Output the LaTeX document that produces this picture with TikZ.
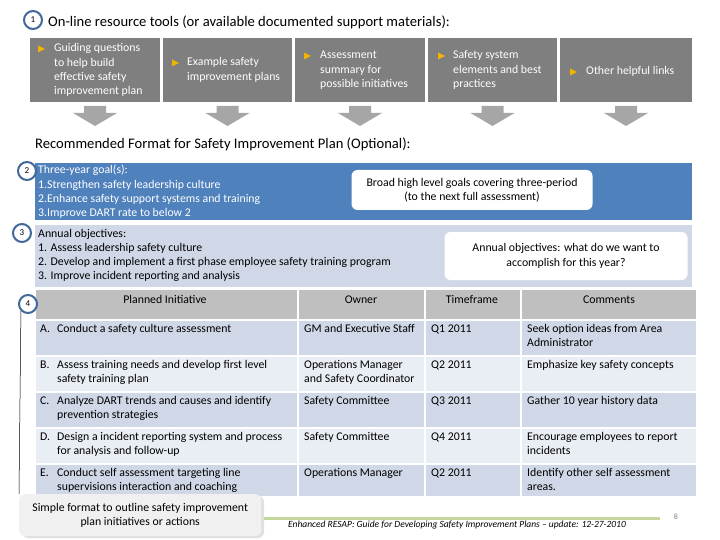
\documentclass[tikz,border=0pt]{standalone}
\usepackage{fontspec}
\setmainfont{Carlito}
\definecolor{gbox}{HTML}{7F7F7F}
\definecolor{garr}{HTML}{A6A6A6}
\definecolor{dblue}{HTML}{4F81BD}
\definecolor{lblue}{HTML}{D0D8E8}
\definecolor{llblue}{HTML}{E9EDF4}
\definecolor{hgray}{HTML}{BFBFBF}
\definecolor{circ}{HTML}{41689A}
\definecolor{gold}{HTML}{F0B400}
\definecolor{grn}{HTML}{C3D69B}
\newcommand{\cellpar}[1]{\begin{tabular}[t]{@{}l@{}}#1\end{tabular}}
\begin{document}
\begin{tikzpicture}[x=1pt,y=-1pt,
  txt/.style={font=\fontsize{11.8}{14.3}\selectfont,align=left,inner sep=0pt},
  ctxt/.style={font=\fontsize{11.8}{14.3}\selectfont\renewcommand{\arraystretch}{1},inner sep=0pt,anchor=base west},
  num/.style={circle,draw=circ,line width=2pt,fill=white,minimum width=14pt,minimum height=18pt,inner sep=0pt,font=\fontsize{9}{9}\selectfont},
  callout/.style={rounded corners=6pt,fill=white,draw=none,align=center,font=\fontsize{11.8}{14.3}\selectfont}]
\useasboundingbox (0,0) rectangle (720,540);
% top tools
\foreach \xa/\xb/\n in {30/160/1,163/292/2,295/425/3,428/557/4,560/692/5}{
  \fill[gbox] (\xa,38) rectangle (\xb,102);
  \coordinate (ar\n) at ({(\xa+\xb)/2},106);
  \fill[garr] (ar\n) ++(-11,0) -- ++(22,0) -- ++(0,7) -- ++(11,0) -- ++(-22,13) -- ++(-22,-13) -- ++(11,0) -- cycle;
}
\foreach \x/\y in {38/49,172/63,304/56,438/56,570/72}{
  \fill[gold] (\x,\y-3.5) -- (\x+7,\y) -- (\x,\y+3.5) -- cycle;
}
\node[num] (c1) at (33,20) {1};
\node[txt,anchor=west,font=\fontsize{14.6}{16}\selectfont] (t1) at (48,22) {On-line resource tools (or available documented support materials):};
\node[ctxt,white] (b1) at (54,52) {\cellpar{Guiding questions\\to help build\\effective safety\\improvement plan}};
\node[ctxt,white] (b2) at (187,66) {\cellpar{Example safety\\improvement plans}};
\node[ctxt,white] (b3) at (320,59) {\cellpar{Assessment\\summary for\\possible initiatives}};
\node[ctxt,white] (b4) at (453,59) {\cellpar{Safety system\\elements and best\\practices}};
\node[ctxt,white] (b5) at (586,75) {Other helpful links};
\node[txt,anchor=west,font=\fontsize{14.6}{16}\selectfont] (rec) at (35,144) {Recommended Format for Safety Improvement Plan (Optional):};
% band 2
\fill[dblue] (35,163) rectangle (692,220);
\node[ctxt,white] (g2) at (38,174) {\cellpar{Three-year goal(s):\\1.Strengthen safety leadership culture\\2.Enhance safety support systems and training\\3.Improve DART rate to below 2}};
\node[callout,minimum width=241pt,minimum height=40pt] (co2) at (472,190) {Broad high level goals covering three-period\\(to the next full assessment)};
% band 3
\fill[lblue] (35,225) rectangle (692,287);
\node[ctxt] (g3) at (38,237) {\cellpar{Annual objectives:\\1. Assess leadership safety culture\\2. Develop and implement a first phase employee safety training program\\3. Improve incident reporting and analysis}};
\node[callout,minimum width=243pt,minimum height=48pt] (co3) at (566,256) {Annual objectives:  what do we want to\\accomplish for this year?};
% table
\foreach \ya/\yb/\c in {289/320/hgray,320/356/lblue,356/392/llblue,392/428/lblue,428/464/llblue,464/497/lblue}{
  \foreach \xa/\xb in {35/298,298/425,425/521,521/697}{
    \draw[draw=white,line width=1.2pt,fill=\c] (\xa,\ya) rectangle (\xb,\yb);
  }}
\node[ctxt,anchor=base] (h1) at (165,303) {Planned Initiative};
\node[ctxt,anchor=base] (h2) at (361,303) {Owner};
\node[ctxt,anchor=base] (h3) at (472,303) {Timeframe};
\node[ctxt,anchor=base] (h4) at (609,303) {Comments};
\foreach \y/\a/\b/\c/\d/\e in {
 332/A./Conduct a safety culture assessment/GM and Executive Staff/Q1 2011/Seek option ideas from Area\\Administrator,
 368/B./Assess training needs and develop first level\\safety training plan/Operations Manager\\and Safety Coordinator/Q2 2011/Emphasize key safety concepts,
 404/C./Analyze DART trends and causes and identify\\prevention strategies/Safety Committee/Q3 2011/Gather 10 year history data,
 440/D./Design a incident reporting system and process\\for analysis and follow-up/Safety Committee/Q4 2011/Encourage employees to report\\incidents,
 476/E./Conduct self assessment targeting line\\supervisions interaction and coaching/Operations Manager/Q2 2011/Identify other self assessment\\areas.}{
  \node[ctxt] at (40,\y) {\a};
  \node[ctxt] at (57,\y) {\cellpar{\b}};
  \node[ctxt] at (304,\y) {\cellpar{\c}};
  \node[ctxt] at (431,\y) {\cellpar{\d}};
  \node[ctxt] at (527,\y) {\cellpar{\e}};
}
\node[num] (c2) at (27,171) {2};
\node[num] (c3) at (22,233) {3};
\node[num] (c4) at (28,304) {4};
% footer
\draw[grn,line width=3pt] (262,518) -- (660,518);
\node[txt,anchor=center,font=\itshape\fontsize{9.5}{10}\selectfont] (foot) at (457,525) {Enhanced RESAP:  Guide for Developing Safety Improvement Plans -- update:  12-27-2010};
\node[txt,font=\fontsize{8}{8}\selectfont,gray] (pg) at (676,517) {8};
\fill[black!12,rounded corners=6pt] (22,496) rectangle (264,538);
\node[callout,fill=black!6,minimum width=242pt,minimum height=42pt,anchor=north west] (co4) at (19,494) {Simple format to outline safety improvement\\plan initiatives or actions};
\draw[black,line width=0.5pt] (c4.south west) -- (co4.north west);
\end{tikzpicture}
\end{document}
